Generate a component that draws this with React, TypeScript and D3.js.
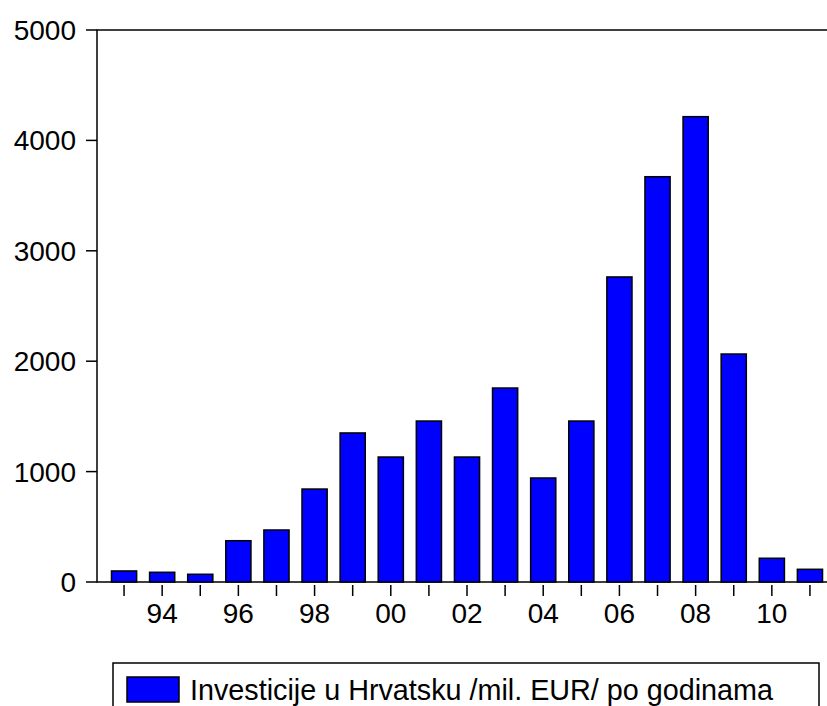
import React, { useEffect, useRef } from 'react';
import * as d3 from 'd3';

const years = ['93', '94', '95', '96', '97', '98', '99', '00', '01', '02', '03', '04', '05', '06', '07', '08', '09', '10', '11'];
const investments = [100, 88, 70, 374, 471, 842, 1350, 1132, 1458, 1132, 1757, 942, 1458, 2763, 3671, 4215, 2065, 215, 115];
const labelledYears = ['94', '96', '98', '00', '02', '04', '06', '08', '10'];
const yTicks = [0, 1000, 2000, 3000, 4000, 5000];
const legendLabel = 'Investicije u Hrvatsku /mil. EUR/ po godinama';

const App = () => {
  const ref = useRef<SVGSVGElement>(null);

  useEffect(() => {
    const width = 827;
    const height = 706;
    const frameLeft = 97;
    const frameTop = 30;
    const baseY = 582;

    const svg = d3.select(ref.current)
      .attr('width', width)
      .attr('height', height);

    svg.selectAll('*').remove();

    // scales
    const x = d3.scaleBand<string>()
      .domain(years)
      .range([105, 829])
      .paddingInner(0.34)
      .paddingOuter(0.17);

    const y = d3.scaleLinear()
      .domain([0, 5000])
      .range([baseY, frameTop]);

    const font = 'Arial, "Liberation Sans", sans-serif';

    // frame: top, left and bottom lines (right side runs off the page)
    svg.append('path')
      .attr('d', `M${width + 5},${frameTop}H${frameLeft}V${baseY}H${width + 5}`)
      .attr('fill', 'none')
      .attr('stroke', '#000')
      .attr('stroke-width', 1.5);

    // y axis ticks
    const yAxis = svg.append('g');
    yAxis.selectAll('line')
      .data(yTicks)
      .join('line')
      .attr('x1', frameLeft - 11)
      .attr('x2', frameLeft)
      .attr('y1', d => y(d))
      .attr('y2', d => y(d))
      .attr('stroke', '#000')
      .attr('stroke-width', 1.5);
    yAxis.selectAll('text')
      .data(yTicks)
      .join('text')
      .attr('x', frameLeft - 21)
      .attr('y', d => y(d))
      .attr('dy', '0.36em')
      .attr('text-anchor', 'end')
      .attr('font-family', font)
      .attr('font-size', 28)
      .attr('fill', '#000')
      .text(d => d);

    // bars
    svg.append('g')
      .selectAll('rect')
      .data(years)
      .join('rect')
      .attr('x', d => x(d)!)
      .attr('y', (d, i) => y(investments[i]))
      .attr('width', x.bandwidth())
      .attr('height', (d, i) => baseY - y(investments[i]))
      .attr('fill', '#0000ff')
      .attr('stroke', '#000')
      .attr('stroke-width', 1.5);

    // x axis ticks
    const xAxis = svg.append('g');
    xAxis.selectAll('line')
      .data(years)
      .join('line')
      .attr('x1', d => x(d)! + x.bandwidth() / 2)
      .attr('x2', d => x(d)! + x.bandwidth() / 2)
      .attr('y1', baseY + 3)
      .attr('y2', baseY + 14)
      .attr('stroke', '#000')
      .attr('stroke-width', 1.5);
    xAxis.selectAll('text')
      .data(labelledYears)
      .join('text')
      .attr('x', d => x(d)! + x.bandwidth() / 2)
      .attr('y', 623)
      .attr('text-anchor', 'middle')
      .attr('font-family', font)
      .attr('font-size', 28)
      .attr('fill', '#000')
      .text(d => d);

    // legend
    const legend = svg.append('g');
    legend.append('rect')
      .attr('x', 113)
      .attr('y', 663)
      .attr('width', 706)
      .attr('height', 60)
      .attr('fill', '#fff')
      .attr('stroke', '#000')
      .attr('stroke-width', 1.5);
    legend.append('rect')
      .attr('x', 127)
      .attr('y', 677)
      .attr('width', 52)
      .attr('height', 25)
      .attr('fill', '#0000ff')
      .attr('stroke', '#000')
      .attr('stroke-width', 1.5);
    legend.append('text')
      .attr('x', 190)
      .attr('y', 700)
      .attr('font-family', font)
      .attr('font-size', 29)
      .attr('textLength', 583)
      .attr('lengthAdjust', 'spacingAndGlyphs')
      .attr('fill', '#000')
      .text(legendLabel);
  }, []);

  return <svg ref={ref} style={{ position: 'absolute', left: 0, top: 0 }}></svg>;
};

export default App;
